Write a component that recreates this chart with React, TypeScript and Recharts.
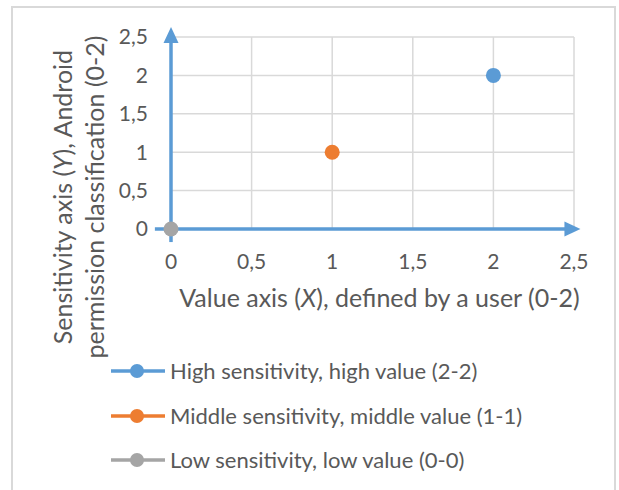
import React from 'react';
import { ScatterChart, Scatter, XAxis, YAxis, CartesianGrid, ReferenceLine, Legend } from 'recharts';

const xTicks = [0, 0.5, 1, 1.5, 2, 2.5];
const yTicks = [0, 0.5, 1, 1.5, 2, 2.5];
const highSeries = [{ x: 2, y: 2 }];
const middleSeries = [{ x: 1, y: 1 }];
const lowSeries = [{ x: 0, y: 0 }];
const seriesNames = [
  'High sensitivity, high value (2-2)',
  'Middle sensitivity, middle value (1-1)',
  'Low sensitivity, low value (0-0)',
];
const seriesColors = ['#5B9BD5', '#ED7D31', '#A5A5A5'];

const FONT = 'Lato, "Open Sans", sans-serif';
const TEXT = '#595959';
const AXIS = '#5B9BD5';
const GRID = '#D9D9D9';
const TICK_FS = 21;
const TITLE_FS = 25;
const LEGEND_FS = 22;

const fmt = (v: number) => String(v).replace('.', ',');

const ArrowLine = (props: any) => {
  const { x1, y1, x2, y2 } = props;
  const dx = x2 - x1;
  const dy = y2 - y1;
  const len = Math.hypot(dx, dy) || 1;
  const ux = dx / len;
  const uy = dy / len;
  const head = 16;
  const half = 7.5;
  const bx = x2 - ux * head;
  const by = y2 - uy * head;
  const px = -uy;
  const py = ux;
  return (
    <g>
      <line x1={x1} y1={y1} x2={bx + ux * 1} y2={by + uy * 1} stroke={AXIS} strokeWidth={3.5} />
      <polygon
        points={`${x2},${y2} ${bx + px * half},${by + py * half} ${bx - px * half},${by - py * half}`}
        fill={AXIS}
      />
    </g>
  );
};

const dotShape = (color: string) => (props: any) =>
  <circle cx={props.cx} cy={props.cy} r={7.5} fill={color} />;

const XTitle = (props: any) => {
  const vb = props.viewBox || { x: 0, width: 0, y: 0 };
  const cx = vb.x + vb.width / 2 + 7;
  return (
    <text x={cx} y={307} textAnchor="middle" fill={TEXT} fontSize={TITLE_FS} fontFamily={FONT}>
      Value axis (<tspan fontStyle="italic">X</tspan>), defined by a user (0-2)
    </text>
  );
};

const YTitle = () => {
  const cy = 197;
  return (
    <g>
      <text x={72} y={cy} textAnchor="middle" transform={`rotate(-90, 72, ${cy})`} fill={TEXT} fontSize={TITLE_FS} fontFamily={FONT}>
        Sensitivity axis (<tspan fontStyle="italic">Y</tspan>), Android
      </text>
      <text x={104} y={cy} textAnchor="middle" transform={`rotate(-90, 104, ${cy})`} fill={TEXT} fontSize={TITLE_FS} fontFamily={FONT}>
        permission classification (0-2)
      </text>
    </g>
  );
};

const renderLegend = (props: any) => {
  const payload = [...(props.payload || [])].sort(
    (a: any, b: any) => seriesNames.indexOf(a.value) - seriesNames.indexOf(b.value)
  );
  return (
    <div>
      {payload.map((p: any, i: number) => (
        <div key={i} style={{ display: 'flex', alignItems: 'center', height: 44.5 }}>
          <svg width={56} height={16} style={{ display: 'block' }}>
            <line x1={1} y1={8} x2={55} y2={8} stroke={p.color} strokeWidth={3.5} />
            <circle cx={27} cy={8} r={7} fill={p.color} />
          </svg>
          <span style={{ marginLeft: 4, fontSize: LEGEND_FS, color: TEXT, fontFamily: FONT, whiteSpace: 'nowrap', lineHeight: 1 }}>
            {p.value}
          </span>
        </div>
      ))}
    </div>
  );
};

export default function App() {
  return (
    <div style={{ position: 'absolute', left: 0, top: 0, width: 619, height: 490, overflow: 'hidden', background: '#fff' }}>
      <div
        style={{
          position: 'absolute',
          left: 11,
          top: 6,
          width: 605,
          height: 520,
          border: '2px solid #D9D9D9',
          boxSizing: 'border-box',
        }}
      />
      <div style={{ position: 'absolute', left: 0, top: 0 }}>
        <ScatterChart width={619} height={490} margin={{ top: 37, right: 45, bottom: 221, left: 111 }}>
          <CartesianGrid stroke={GRID} strokeWidth={1.5} horizontalValues={yTicks} verticalValues={xTicks} />
          <XAxis
            type="number"
            dataKey="x"
            domain={[0, 2.5]}
            ticks={xTicks}
            tickFormatter={fmt}
            axisLine={false}
            tickLine={false}
            height={40}
            tickMargin={19}
            tick={{ fill: TEXT, fontSize: TICK_FS, fontFamily: FONT }}
            interval={0}
            label={<XTitle />}
          />
          <YAxis
            type="number"
            dataKey="y"
            domain={[0, 2.5]}
            ticks={yTicks}
            tickFormatter={fmt}
            axisLine={false}
            tickLine={false}
            width={60}
            tickMargin={17}
            tick={{ fill: TEXT, fontSize: TICK_FS, fontFamily: FONT }}
            interval={0}
            label={<YTitle />}
          />
          <Scatter name={seriesNames[0]} data={highSeries} fill={seriesColors[0]} shape={dotShape(seriesColors[0])} isAnimationActive={false} />
          <Scatter name={seriesNames[1]} data={middleSeries} fill={seriesColors[1]} shape={dotShape(seriesColors[1])} isAnimationActive={false} />
          <Scatter name={seriesNames[2]} data={lowSeries} fill={seriesColors[2]} shape={dotShape(seriesColors[2])} isAnimationActive={false} />
          <ReferenceLine segment={[{ x: -0.1, y: 0 }, { x: 2.54, y: 0 }]} ifOverflow="visible" shape={ArrowLine} />
          <ReferenceLine segment={[{ x: 0, y: -0.17 }, { x: 0, y: 2.63 }]} ifOverflow="visible" shape={ArrowLine} />
          <Legend
            layout="vertical"
            align="center"
            verticalAlign="middle"
            content={renderLegend}
            wrapperStyle={{ left: 110, top: 349, width: 500, height: 140 }}
          />
        </ScatterChart>
      </div>
    </div>
  );
}
